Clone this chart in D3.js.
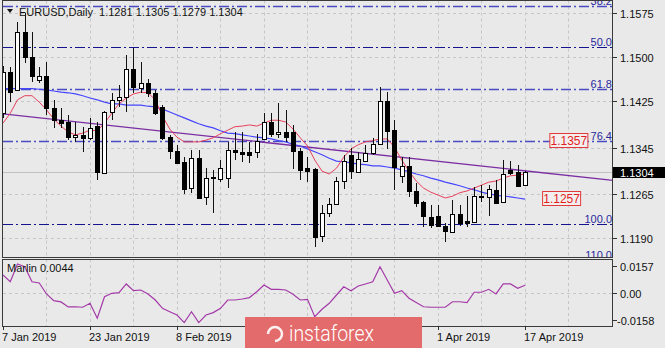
<!DOCTYPE html>
<html><head><meta charset="utf-8">
<script src="https://cdn.jsdelivr.net/npm/d3@7/dist/d3.min.js"></script>
<style>
body{margin:0;background:#e9e9e9;}
svg{display:block;}
text{font-family:"Liberation Sans",Arial,sans-serif;font-size:11px;}
</style>
</head><body>
<svg id="c" width="665" height="348"></svg>
<script>
// ---------- data ----------
const title = "EURUSD,Daily  1.1281 1.1305 1.1279 1.1304";
const openP  = [1.1404,1.1475,1.1444,1.1543,1.1500,1.1461,1.1468,1.1413,1.1392,1.1389,1.1363,1.1367,1.1362,1.1382,1.1302,1.1406,1.1427,1.1432,1.1480,1.1447,1.1456,1.1439,1.1415,1.1363,1.1339,1.1321,1.1276,1.1327,1.1261,1.1295,1.1291,1.1293,1.1341,1.1338,1.1338,1.1338,1.1360,1.1389,1.1369,1.1372,1.1372,1.1339,1.1310,1.1309,1.1194,1.1233,1.1249,1.1288,1.1333,1.1304,1.1322,1.1336,1.1351,1.1425,1.1375,1.1297,1.1314,1.1271,1.1252,1.1226,1.1228,1.1211,1.1201,1.1232,1.1220,1.1218,1.1262,1.1261,1.1273,1.1252,1.1307,1.1304,1.1281];
const highP  = [1.1485,1.1483,1.1560,1.1576,1.1543,1.1483,1.1492,1.1427,1.1413,1.1401,1.1389,1.1380,1.1396,1.1389,1.1408,1.1439,1.1452,1.1504,1.1516,1.1492,1.1463,1.1444,1.1418,1.1367,1.1350,1.1329,1.1341,1.1341,1.1310,1.1307,1.1324,1.1355,1.1372,1.1372,1.1355,1.1369,1.1404,1.1404,1.1422,1.1410,1.1384,1.1345,1.1329,1.1310,1.1247,1.1259,1.1295,1.1333,1.1345,1.1338,1.1350,1.1362,1.1449,1.1440,1.1392,1.1329,1.1329,1.1285,1.1254,1.1247,1.1247,1.1216,1.1256,1.1247,1.1262,1.1278,1.1281,1.1281,1.1290,1.1324,1.1322,1.1316,1.1305];
const lowP   = [1.1396,1.1423,1.1442,1.1490,1.1458,1.1456,1.1401,1.1379,1.1379,1.1358,1.1355,1.1338,1.1358,1.1290,1.1300,1.1392,1.1415,1.1406,1.1439,1.1439,1.1432,1.1401,1.1358,1.1326,1.1317,1.1266,1.1268,1.1257,1.1247,1.1233,1.1286,1.1276,1.1324,1.1321,1.1319,1.1327,1.1358,1.1363,1.1362,1.1355,1.1309,1.1290,1.1286,1.1175,1.1184,1.1226,1.1247,1.1274,1.1292,1.1302,1.1321,1.1333,1.1350,1.1343,1.1273,1.1285,1.1261,1.1244,1.1209,1.1208,1.1209,1.1184,1.1201,1.1211,1.1209,1.1218,1.1252,1.1228,1.1249,1.1251,1.1298,1.1278,1.1279];
const closeP = [1.1475,1.1440,1.1543,1.1500,1.1468,1.1468,1.1413,1.1392,1.1387,1.1363,1.1367,1.1362,1.1379,1.1304,1.1406,1.1427,1.1432,1.1480,1.1449,1.1456,1.1439,1.1404,1.1362,1.1339,1.1319,1.1274,1.1327,1.1259,1.1293,1.1293,1.1310,1.1341,1.1338,1.1334,1.1333,1.1357,1.1389,1.1369,1.1372,1.1363,1.1339,1.1307,1.1305,1.1192,1.1233,1.1249,1.1288,1.1322,1.1305,1.1326,1.1336,1.1351,1.1425,1.1374,1.1312,1.1314,1.1271,1.1251,1.1228,1.1213,1.1211,1.1203,1.1232,1.1216,1.1216,1.1262,1.1261,1.1274,1.1251,1.1300,1.1302,1.1280,1.1304];
const maFast = [1.1387,1.1404,1.1427,1.1434,1.1434,1.1423,1.1410,1.1394,1.1382,1.1372,1.1367,1.1370,1.1375,1.1374,1.1387,1.1404,1.1420,1.1430,1.1437,1.1440,1.1439,1.1427,1.1399,1.1377,1.1363,1.1355,1.1355,1.1355,1.1358,1.1362,1.1369,1.1375,1.1381,1.1382,1.1384,1.1382,1.1387,1.1392,1.1392,1.1389,1.1377,1.1362,1.1348,1.1324,1.1305,1.1300,1.1310,1.1329,1.1343,1.1350,1.1355,1.1357,1.1360,1.1360,1.1346,1.1324,1.1305,1.1288,1.1276,1.1269,1.1264,1.1259,1.1262,1.1268,1.1271,1.1276,1.1281,1.1286,1.1288,1.1293,1.1297,1.1298,1.1300];
const maSlow = [1.1446,1.1446,1.1446,1.1446,1.1446,1.1445,1.1444,1.1442,1.1440,1.1439,1.1437,1.1434,1.1430,1.1427,1.1423,1.1420,1.1420,1.1418,1.1418,1.1418,1.1416,1.1415,1.1411,1.1406,1.1401,1.1396,1.1391,1.1386,1.1382,1.1379,1.1374,1.1370,1.1369,1.1367,1.1365,1.1363,1.1362,1.1360,1.1357,1.1355,1.1351,1.1348,1.1343,1.1338,1.1333,1.1327,1.1322,1.1321,1.1319,1.1317,1.1316,1.1314,1.1314,1.1312,1.1310,1.1307,1.1304,1.1300,1.1297,1.1293,1.1290,1.1286,1.1283,1.1280,1.1276,1.1273,1.1269,1.1266,1.1264,1.1262,1.1261,1.1259,1.1257];
const marlin = [0.0103,0.0064,0.0167,0.0151,0.0064,0.0057,-0.0007,-0.0046,-0.0053,-0.0082,-0.0081,-0.0084,-0.0061,-0.0148,-0.0023,-0.0003,0.0001,0.0051,0.0012,0.0016,-0.0007,-0.0042,-0.0090,-0.0110,-0.0129,-0.0173,-0.0110,-0.0173,-0.0129,-0.0115,-0.0090,-0.0042,-0.0042,-0.0036,-0.0028,0.0006,0.0045,0.0020,0.0020,0.0016,-0.0009,-0.0042,-0.0038,-0.0139,-0.0096,-0.0061,-0.0013,0.0035,0.0012,0.0039,0.0051,0.0064,0.0151,0.0074,-0.0003,0.0012,-0.0032,-0.0057,-0.0081,-0.0084,-0.0084,-0.0084,-0.0052,-0.0052,-0.0057,0.0003,0.0003,0.0020,-0.0007,0.0051,0.0051,0.0026,0.0044];
const fibNames  = ["38.2","50.0","61.8","76.4","100.0","110.0"];
const fibPrices = [1.1588,1.1517,1.1445,1.1357,1.1214,1.1153];
const priceTicks = [1.1575,1.1500,1.1425,1.1345,1.1265,1.1190];
const lastPrice = 1.1304;
const marlinTicks = [0.0157,0,-0.0158];
const marlinTickLabels = ["0.0157","0.00","-0.0158"];
// date labels that are visible (the ones at bars 36 and 48 lie under the watermark)
const dateTickBars = [0,12,24,60,72];
const dateTickLabels = ["7 Jan 2019","23 Jan 2019","8 Feb 2019","1 Apr 2019","17 Apr 2019"];
const trendBars = [0,84.14];
const trendPrices = [1.1403,1.1289];
const priceMarks = [{bar:75.5,price:1.1357,text:"1.1357"},{bar:74.5,price:1.1257,text:"1.1257"}];

// ---------- layout ----------
const L=3, R=613, T=0.5, MB=257, IT=259, IB=326;
const svg=d3.select("#c");
svg.append("rect").attr("width",665).attr("height",348).attr("fill","#e9e9e9");

const x=d3.scaleLinear().domain([0,84.14]).range([L,R]);
const y=d3.scaleLinear().domain([1.1190,1.1575]).range([238.3,13.3]);
const yi=d3.scaleLinear().domain([-0.0158,0.0157]).range([320,265.7]);

const defs=svg.append("defs");
defs.append("clipPath").attr("id","cm").append("rect").attr("x",L).attr("y",T).attr("width",R-L).attr("height",MB-T);
defs.append("clipPath").attr("id","ci").append("rect").attr("x",L).attr("y",IT).attr("width",R-L).attr("height",IB-IT);

const gm=svg.append("g").attr("clip-path","url(#cm)");
const gi=svg.append("g").attr("clip-path","url(#ci)");

// grid
const vBars=d3.range(6,85,6);
vBars.forEach(b=>{
  const xx=Math.round(x(b))+0.5;
  if(xx>=R-1) return;
  gm.append("line").attr("x1",xx).attr("x2",xx).attr("y1",T).attr("y2",MB).attr("stroke","#c6c6c6").attr("stroke-dasharray","3,3");
  gi.append("line").attr("x1",xx).attr("x2",xx).attr("y1",IT).attr("y2",IB).attr("stroke","#c6c6c6").attr("stroke-dasharray","3,3");
});
priceTicks.forEach(p=>{
  const yy=Math.round(y(p))+0.5;
  gm.append("line").attr("x1",L).attr("x2",R).attr("y1",yy).attr("y2",yy).attr("stroke","#c6c6c6").attr("stroke-dasharray","3,3");
});
gi.append("line").attr("x1",L).attr("x2",R).attr("y1",Math.round(yi(0))+0.5).attr("y2",Math.round(yi(0))+0.5).attr("stroke","#c6c6c6").attr("stroke-dasharray","3,3");

// current price line
gm.append("line").attr("x1",L).attr("x2",R).attr("y1",Math.round(y(lastPrice))+0.5).attr("y2",Math.round(y(lastPrice))+0.5).attr("stroke","#c0c0c0");

// fib levels
fibPrices.forEach((p,i)=>{
  const yy=Math.round(y(p))+0.5;
  const dark=(fibNames[i]==="50.0"||fibNames[i]==="100.0"||fibNames[i]==="110.0");
  gm.append("line").attr("x1",L).attr("x2",R).attr("y1",yy).attr("y2",yy)
    .attr("stroke",dark?"#14148c":"#4a4ac4").attr("stroke-width",dark?1:1.6)
    .attr("stroke-dasharray","10,3,2,3");
  gm.append("text").attr("x",R-1).attr("y",yy-2).attr("text-anchor","end")
    .attr("fill","#2a2a9e").text(fibNames[i]);
});

// trend line
gm.append("line").attr("x1",x(trendBars[0])).attr("x2",x(trendBars[1]))
  .attr("y1",y(trendPrices[0])).attr("y2",y(trendPrices[1]))
  .attr("stroke","#7a2ea2").attr("stroke-width",1.3);

// moving averages
const line=d3.line().x((d,i)=>x(i)).y(d=>y(d));
gm.append("path").attr("d",line(maSlow)).attr("fill","none").attr("stroke","#4646ff").attr("stroke-width",1.2);
gm.append("path").attr("d",line(maFast)).attr("fill","none").attr("stroke","#e8405c").attr("stroke-width",1);

// candles
const cg=gm.append("g").attr("shape-rendering","crispEdges");
openP.forEach((o,i)=>{
  const c=closeP[i], xi=Math.round(x(i));
  cg.append("line").attr("x1",xi+0.5).attr("x2",xi+0.5).attr("y1",y(highP[i])).attr("y2",y(lowP[i])).attr("stroke","#111");
  const top=Math.round(y(Math.max(o,c))), bot=Math.round(y(Math.min(o,c)));
  const bull=c>=o;
  cg.append("rect").attr("x",xi-1.5).attr("y",top+0.5).attr("width",4).attr("height",Math.max(bot-top,0.01))
    .attr("fill",bull?"#ffffff":"#000000").attr("stroke","#000").attr("stroke-width",1);
});

// price mark boxes
priceMarks.forEach(m=>{
  const xx=x(m.bar), yy=y(m.price);
  const g=svg.append("g");
  g.append("rect").attr("x",xx-0.5).attr("y",Math.round(yy)-7.5).attr("width",38).attr("height",14)
    .attr("fill","#f3efef").attr("stroke","#e23a3a");
  g.append("text").attr("x",xx+18.5).attr("y",Math.round(yy)+4).attr("text-anchor","middle")
    .attr("fill","#e01e1e").style("font-size","12px").text(m.text);
});

// indicator line
gi.append("path").attr("d",d3.line().x((d,i)=>x(i)).y(d=>yi(d))(marlin))
  .attr("fill","none").attr("stroke","#a43aa8").attr("stroke-width",1.2);

// frames
const fr=svg.append("g").attr("fill","none").attr("stroke","#3a3a3a").attr("shape-rendering","crispEdges");
fr.append("rect").attr("x",L-0.5).attr("y",T).attr("width",R-L).attr("height",MB-T);
fr.append("rect").attr("x",L-0.5).attr("y",IT+0.5).attr("width",R-L).attr("height",IB-IT);

// right axis
priceTicks.forEach(p=>{
  const yy=Math.round(y(p))+0.5;
  svg.append("line").attr("x1",R).attr("x2",R+4).attr("y1",yy).attr("y2",yy).attr("stroke","#333");
  svg.append("text").attr("x",R+7).attr("y",yy+4).attr("fill","#111").text(d3.format(".4f")(p));
});
// last price box
{
  const yy=Math.round(y(lastPrice));
  svg.append("rect").attr("x",R).attr("y",yy-5).attr("width",665-R).attr("height",11).attr("fill","#000");
  svg.append("text").attr("x",R+7).attr("y",yy+4.5).attr("fill","#fff").text(d3.format(".4f")(lastPrice));
}
marlinTicks.forEach((v,i)=>{
  const yy=Math.round(yi(v))+0.5;
  svg.append("line").attr("x1",R).attr("x2",R+4).attr("y1",yy).attr("y2",yy).attr("stroke","#333");
  svg.append("text").attr("x",v<0?R+4:R+7).attr("y",yy+4).attr("fill","#111").text(marlinTickLabels[i]);
});

// bottom axis
dateTickBars.forEach((b,i)=>{
  const xx=Math.round(x(b))+0.5;
  svg.append("line").attr("x1",xx).attr("x2",xx).attr("y1",IB).attr("y2",IB+4).attr("stroke","#333");
  svg.append("text").attr("x",xx-1.5).attr("y",341).attr("fill","#111").text(dateTickLabels[i]);
});

// titles
svg.append("path").attr("d","M7,9 L13,9 L10,13 Z").attr("fill","#111");
svg.append("text").attr("x",19).attr("y",15.5).attr("fill","#111").attr("xml:space","preserve").style("white-space","pre").text(title);
svg.append("text").attr("x",7).attr("y",272).attr("fill","#111").text("Marlin 0.0044");

// watermark
const wm=svg.append("g");
wm.append("rect").attr("x",245).attr("y",317).attr("width",177).attr("height",31).attr("fill","#e46b6b");
wm.append("path").attr("d","M268,334 a7,7 0 1,1 7,7").attr("fill","none").attr("stroke","#fff").attr("stroke-width",2.5).attr("opacity",0.9);
wm.append("text").attr("x",289).attr("y",341).attr("fill","#fff").style("font-family","Roboto, 'Open Sans', sans-serif").style("font-size","22px").style("font-weight","300")
  .attr("textLength",85).attr("lengthAdjust","spacingAndGlyphs").text("instaforex");
</script>
</body></html>
